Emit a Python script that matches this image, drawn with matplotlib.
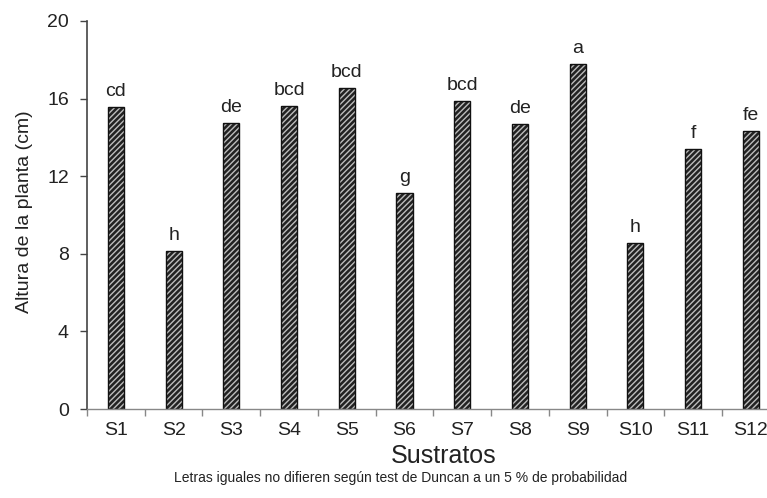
import matplotlib.pyplot as plt

# Altura de la planta por sustrato
sustratos = ['S1', 'S2', 'S3', 'S4', 'S5', 'S6', 'S7', 'S8', 'S9', 'S10', 'S11', 'S12']
altura = [15.55, 8.15, 14.75, 15.6, 16.55, 11.15, 15.9, 14.7, 17.8, 8.55, 13.4, 14.35]
letras = ['cd', 'h', 'de', 'bcd', 'bcd', 'g', 'bcd', 'de', 'a', 'h', 'f', 'fe']

plt.rcParams['font.family'] = ['Liberation Sans', 'DejaVu Sans']
plt.rcParams['hatch.linewidth'] = 1.0

fig = plt.figure(figsize=(7.67, 4.98), dpi=100)
ax = fig.add_axes([87 / 767, 89 / 498, 1 - 87 / 767, 388 / 498])

x = list(range(1, len(sustratos) + 1))

# dark bars with light diagonal stripes, black outline on top
ax.bar(x, altura, width=0.28, color='#222222', edgecolor='#bdbdbd',
       hatch='//////', linewidth=0)
ax.bar(x, altura, width=0.28, fill=False, edgecolor='#111111', linewidth=1)

for xi, h, l in zip(x, altura, letras):
    ax.annotate(l, (xi, h), xytext=(0, 5), textcoords='offset points',
                ha='center', va='bottom', fontsize=14, color='#222222')

ax.set_xlim(0.5, 12.28)
ax.set_ylim(0, 20)
ax.set_yticks([0, 4, 8, 12, 16, 20])
ax.set_xticks(x)
ax.set_xticklabels(sustratos)
ax.set_xticks([i + 0.5 for i in range(0, 12)], minor=True)

ax.tick_params(axis='x', which='major', length=0, pad=9, labelsize=14,
               labelcolor='#222222')
ax.tick_params(axis='x', which='minor', length=5, width=1, color='#888888',
               direction='out')
ax.tick_params(axis='y', length=5, width=1, pad=8, labelsize=14,
               color='#444444', labelcolor='#222222')

for s in ['top', 'right']:
    ax.spines[s].set_visible(False)
ax.spines['left'].set_color('#444444')
ax.spines['bottom'].set_color('#888888')
ax.spines['left'].set_linewidth(1.2)
ax.spines['bottom'].set_linewidth(1.0)

fig.text(25 / 767, 1 - 212 / 498, 'Altura de la planta (cm)', rotation=90,
         ha='center', va='center', fontsize=14, color='#222222')
fig.text(444 / 767, 1 - 456 / 498, 'Sustratos', ha='center', va='center',
         fontsize=18, color='#222222')
fig.text(401 / 767, 1 - 478 / 498,
         'Letras iguales no difieren según test de Duncan a un 5 % de probabilidad',
         ha='center', va='center', fontsize=10, color='#222222',
         family=['Liberation Sans Narrow', 'Liberation Sans', 'DejaVu Sans'])

fig.savefig('out.png', dpi=100)
